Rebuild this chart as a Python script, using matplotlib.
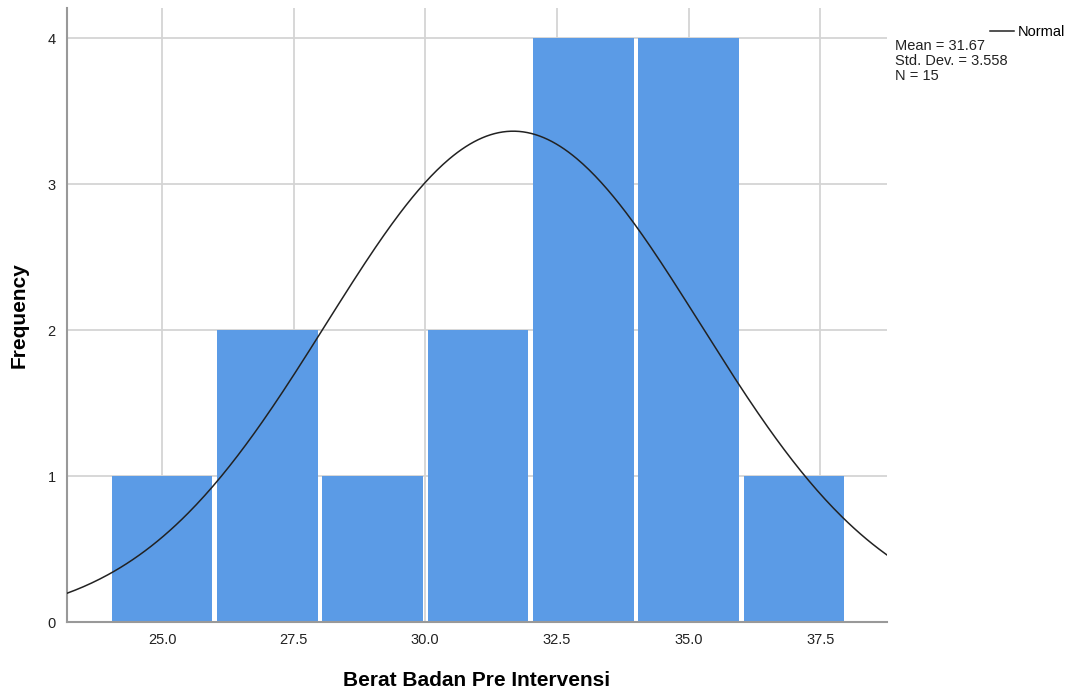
import numpy as np
import matplotlib.pyplot as plt

# Histogram data (bin edges and counts)
bin_edges = [24, 26, 28, 30, 32, 34, 36, 38]
counts = [1, 2, 1, 2, 4, 4, 1]
mean = 31.67
std = 3.558
n = 15

plt.rcParams['font.family'] = ['Liberation Sans', 'DejaVu Sans']

fig = plt.figure(figsize=(10.7, 6.95), dpi=100)
ax = fig.add_axes([0.0626, 0.105, 0.7664, 0.8835])

# bars with a small white gap between them (no outline over the top)
gap = 0.09
lefts = np.array(bin_edges[:-1])
widths = np.diff(bin_edges)
ax.bar(lefts + gap / 2, counts, width=widths - gap, align='edge',
       color='#5b9be6', linewidth=0, zorder=2)

# normal curve scaled to the histogram
xmin, xmax = 23.195, 38.77
xs = np.linspace(xmin, xmax, 400)
bw = widths[0]
ys = n * bw / (std * np.sqrt(2 * np.pi)) * np.exp(-0.5 * ((xs - mean) / std) ** 2)
ax.plot(xs, ys, color='#222222', linewidth=1.1, zorder=3, label='Normal')

ax.set_xlim(xmin, xmax)
ax.set_ylim(0, 4.208)
ax.set_xticks([25.0, 27.5, 30.0, 32.5, 35.0, 37.5])
ax.set_xticklabels(['25.0', '27.5', '30.0', '32.5', '35.0', '37.5'])
ax.set_yticks([0, 1, 2, 3, 4])
ax.tick_params(length=0, labelsize=10.5, colors='#222222', pad=8)
ax.grid(True, color='#d4d4d4', linewidth=1.3, zorder=0)
ax.set_axisbelow(True)

for s in ['top', 'right']:
    ax.spines[s].set_visible(False)
for s in ['left', 'bottom']:
    ax.spines[s].set_color('#999999')
    ax.spines[s].set_linewidth(1.5)

ax.set_xlabel('Berat Badan Pre Intervensi', fontsize=15, fontweight='bold', labelpad=17)
ax.set_ylabel('Frequency', fontsize=15, fontweight='bold', labelpad=14)

# legend and statistics
fig.legend(loc='upper right', bbox_to_anchor=(1.004, 0.977), frameon=False,
           fontsize=10.5, handlelength=1.6, handletextpad=0.3, borderaxespad=0.2)
fig.text(0.836, 0.944, 'Mean = 31.67\nStd. Dev. = 3.558\nN = 15',
         fontsize=10.5, va='top', ha='left', linespacing=1.1, color='#222222')

fig.savefig('out.png', dpi=100)
